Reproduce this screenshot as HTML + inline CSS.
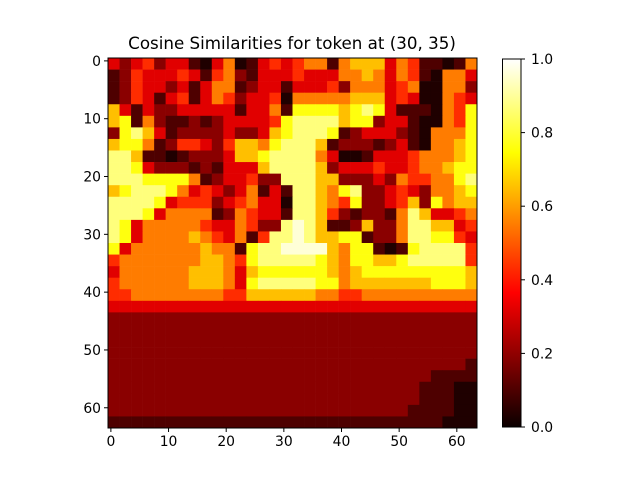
<!DOCTYPE html>
<html><head><meta charset="utf-8">
<style>
html,body{margin:0;padding:0;background:#fff;}
svg text{font-family:"DejaVu Sans","Liberation Sans",sans-serif;fill:#000;}
</style></head>
<body>
<svg id="chart" width="640" height="480" viewBox="0 0 640 480" xmlns="http://www.w3.org/2000/svg">
<rect width="640" height="480" fill="#fff"/>
<text x="292" y="49" text-anchor="middle" font-size="16.7">Cosine Similarities for token at (30, 35)</text>
<g id="cells"></g>
<g id="axes"></g>
<defs><linearGradient id="cbgrad" x1="0" y1="1" x2="0" y2="0">
<stop offset="0" stop-color="#0b0000"/><stop offset="0.365" stop-color="#ff0000"/><stop offset="0.746" stop-color="#ffff00"/><stop offset="1" stop-color="#ffffff"/>
</linearGradient></defs>
<g id="colorbar"></g>
</svg>
<script>
// Coarse 32x32 heatmap (each cell = 2x2 original tokens), digit = level index
const gridRows = [
"32342331035013434551566635411015",
"12433343145213334333556535410553",
"12433231355123313334255534500552",
"12431341354233405555566634300543",
"63132233333133517777678731110547",
"67152112123333478888677233100547",
"27863122223223678887123332105557",
"67751244324665788861222123105567",
"88611012223667888853001333455567",
"88732221213336888862333433455677",
"88877775123342288866222325445578",
"67888753432351318865782234325567",
"88887344423453308865472234627566",
"88873555512543318864212215863345",
"87355555433542289861126225886634",
"87355556543514889866771225887743",
"73555555655178899996577101788884",
"45555555665478888876577667888884",
"35555556665367777776567777777776",
"45555556665378888877566666667776",
"44555555554466666655445555555555",
"33333333333333333333333333333333",
"22222222222222222222222222222222",
"22222222222222222222222222222222",
"22222222222222222222222222222222",
"22222222222222222222222222222222",
"22222222222222222222222222222221",
"22222222222222222222222222221111",
"22222222222222222222222222211100",
"22222222222222222222222222211100",
"22222222222222222222222222111100",
"11111111111111111111111111111000"
];
const levels = [0.03,0.1,0.19,0.32,0.43,0.55,0.65,0.76,0.87,0.96];
const xTicks = [0,10,20,30,40,50,60];
const yTicks = [0,10,20,30,40,50,60];
const cbTicks = [0.0,0.2,0.4,0.6,0.8,1.0];
const cbTickLabels = ["0.0","0.2","0.4","0.6","0.8","1.0"];
const N = 64;

const X0=108, X1=477, Y0=58, Y1=428;
const cw=(X1-X0)/N, ch=(Y1-Y0)/N;
function xScale(i){return X0+i*cw;}
function yScale(j){return Y0+j*ch;}
function cbScale(v){return 427-(427-59)*v;}
function hot(v){
  const r=Math.min(1,0.0416+v/0.365*0.9584), g=Math.min(1,Math.max(0,(v-0.365)/0.381)), b=Math.min(1,Math.max(0,(v-0.746)/0.254));
  return `rgb(${Math.round(r*255)},${Math.round(g*255)},${Math.round(b*255)})`;
}
const NS="http://www.w3.org/2000/svg";
function mk(tag,attrs,parent){const e=document.createElementNS(NS,tag);for(const k in attrs)e.setAttribute(k,attrs[k]);parent.appendChild(e);return e;}
const cells=document.getElementById('cells');
const scale=N/gridRows.length;
gridRows.forEach((row,r)=>{
  for(let c=0;c<row.length;c++){
    const v=levels[+row[c]];
    const el=mk('rect',{x:xScale(c*scale),y:yScale(r*scale),width:cw*scale+0.3,height:ch*scale+0.3,fill:hot(v)},cells);
    
    
  }
});
const axes=document.getElementById('axes');
const frame=mk('rect',{x:X0,y:Y0,width:X1-X0,height:Y1-Y0,fill:'none',stroke:'#000','stroke-width':1},axes);


xTicks.forEach(t=>{
  const x=xScale(t+0.5);
  const l=mk('line',{x1:x,x2:x,y1:Y1,y2:Y1+4,stroke:'#000'},axes);
  
  
  const tx=mk('text',{x:x,y:Y1+18,'text-anchor':'middle','font-size':13.9},axes);
  tx.textContent=t;
  
  
});
yTicks.forEach(t=>{
  const y=yScale(t+0.5);
  const l=mk('line',{x1:X0-4,x2:X0,y1:y,y2:y,stroke:'#000'},axes);
  
  
  const tx=mk('text',{x:X0-7,y:y+5,'text-anchor':'end','font-size':13.9},axes);
  tx.textContent=t;
  
  
});
const cb=document.getElementById('colorbar');
const bar=mk('rect',{x:502.5,y:59,width:18.5,height:368,fill:'url(#cbgrad)',stroke:'#000','stroke-width':1},cb);


cbTicks.forEach((t,i)=>{
  const y=cbScale(t);
  const l=mk('line',{x1:521,x2:525,y1:y,y2:y,stroke:'#000'},cb);
  
  
  const tx=mk('text',{x:531,y:y+5,'font-size':13.9},cb);
  tx.textContent=cbTickLabels[i];
  
  
});
</script>
</body></html>
